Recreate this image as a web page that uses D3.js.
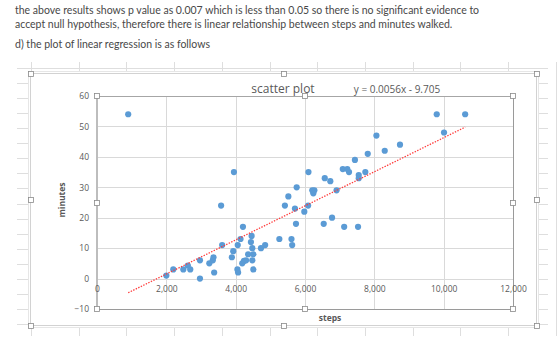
<!DOCTYPE html>
<html lang="en">
<head>
<meta charset="UTF-8">
<title>scatter plot</title>
<script src="https://d3js.org/d3.v7.min.js"></script>
<style>
  body { margin: 0; background: #fff; }
  svg { display: block; }
</style>
</head>
<body>
<div id="chart"></div>
<script>
// text above the chart
const paragraphLines = [
  "the above results shows p value as 0.007 which is less than 0.05 so there is no significant evidence to",
  "accept null hypothesis, therefore there is linear relationship between steps and minutes walked.",
  "d) the plot of linear regression is as follows"
];

// data
const steps = [900, 2000, 2200, 2490, 2620, 2690, 2970, 2970, 3240, 3340, 3360, 3380, 3580, 3610,
  3890, 3930, 3950, 4050, 4070, 4060, 4140, 4210, 4190, 4240, 4300, 4360, 4460, 4440, 4480, 4510,
  4480, 4510, 4730, 4850, 5260, 5610, 5630, 5740, 5420, 5520, 5710, 5760, 5980, 6090, 6100, 6210,
  6270, 6240, 6540, 6570, 6730, 6780, 6910, 7090, 7220, 7270, 7130, 7440, 7530, 7550, 7550, 7740,
  7810, 8060, 8300, 8740, 9800, 10010, 10620];
const minutes = [54, 1, 3, 3, 4.3, 3, 6, 0, 5, 6, 7, 2, 24, 11,
  7, 9, 35, 3, 2, 11, 13, 17, 5, 5.8, 6, 8, 14, 12, 10, 8,
  6, 3, 10, 11, 13, 13, 11, 18, 24, 27, 23, 30, 22, 24, 35, 29,
  29, 28, 18, 33, 32, 20, 29, 36, 36, 35, 17, 39, 17, 34, 33, 35,
  41, 47, 42, 44, 54, 48, 54];

const xTicks = [0, 2000, 4000, 6000, 8000, 10000, 12000];
const yTicks = [-10, 0, 10, 20, 30, 40, 50, 60];
const slope = 0.0056;
const intercept = -9.705;
const chartTitle = "scatter plot";
const equationLabel = "y = 0.0056x - 9.705";
const xTitle = "steps";
const yTitle = "minutes";

const width = 560, height = 362;
const svg = d3.select("#chart").append("svg")
  .attr("width", width)
  .attr("height", height)
  .style("font-family", "Lato, 'Open Sans', sans-serif");

svg.append("rect").attr("width", width).attr("height", height).attr("fill", "#fff");

// paragraph
svg.append("g")
  .attr("fill", "#484848")
  .style("font-size", "10.5px")
  .selectAll("text")
  .data(paragraphLines)
  .join("text")
  .attr("x", 15)
  .attr("y", (d, i) => [14, 28, 48][i])
  .text(d => d);

// spreadsheet cells behind the chart
const sheet = svg.append("g").attr("stroke", "#dedede").attr("stroke-width", 1);
const rowYs = d3.range(-1, 17).map(k => Math.round(82.7 + 15.1 * k) + 0.5);
sheet.selectAll("line.row")
  .data(rowYs)
  .join("line")
  .attr("x1", 17).attr("x2", 548)
  .attr("y1", d => d).attr("y2", d => d);
const colXs = d3.range(0, 12).map(k => Math.round(31 + 47.7 * k) + 0.5);
sheet.selectAll("line.col")
  .data(colXs)
  .join("line")
  .attr("x1", d => d).attr("x2", d => d)
  .attr("y1", 62).attr("y2", 336);

// chart area
const ca = { x0: 30, y0: 73, x1: 536, y1: 325 };
svg.append("rect")
  .attr("x", ca.x0 - 1.5).attr("y", ca.y0 - 1.5)
  .attr("width", ca.x1 - ca.x0 + 4).attr("height", ca.y1 - ca.y0 + 4)
  .attr("fill", "#fff").attr("stroke", "#e6e6e6").attr("stroke-width", 1);
svg.append("rect")
  .attr("x", ca.x0 + 0.5).attr("y", ca.y0 + 0.5)
  .attr("width", ca.x1 - ca.x0).attr("height", ca.y1 - ca.y0)
  .attr("fill", "#fff").attr("stroke", "#d2d2d2");

// scales
const x = d3.scaleLinear().domain([0, 12000]).range([97, 513]);
const y = d3.scaleLinear().domain([-10, 60]).range([309, 96]);

// gridlines
const grid = svg.append("g").attr("stroke", "#d9d9d9").attr("stroke-width", 1);
grid.selectAll("line.h")
  .data(yTicks)
  .join("line")
  .attr("x1", x(0)).attr("x2", x(12000))
  .attr("y1", d => Math.round(y(d)) + 0.5).attr("y2", d => Math.round(y(d)) + 0.5);
grid.selectAll("line.v")
  .data(xTicks.slice(1))
  .join("line")
  .attr("x1", d => Math.round(x(d)) + 0.5).attr("x2", d => Math.round(x(d)) + 0.5)
  .attr("y1", y(60)).attr("y2", y(-10));

// plot area frame
const frame = svg.append("g").attr("fill", "none");
frame.append("line")
  .attr("x1", x(12000) + 0.5).attr("x2", x(12000) + 0.5)
  .attr("y1", y(60)).attr("y2", y(-10))
  .attr("stroke", "#9a9a9a");
frame.append("line")
  .attr("x1", x(0)).attr("x2", x(12000))
  .attr("y1", y(-10) + 0.5).attr("y2", y(-10) + 0.5)
  .attr("stroke", "#9a9a9a");
frame.append("line")
  .attr("x1", x(0)).attr("x2", x(12000))
  .attr("y1", y(60) + 0.5).attr("y2", y(60) + 0.5)
  .attr("stroke", "#a6a6a6");
frame.append("line")
  .attr("x1", x(0)).attr("x2", x(0))
  .attr("y1", y(60)).attr("y2", y(-10))
  .attr("stroke", "#bdbdbd").attr("stroke-width", 2);

// y axis labels
const yAxis = svg.append("g")
  .attr("transform", `translate(${x(0) - 2},0)`)
  .call(d3.axisLeft(y).tickValues(yTicks).tickSize(0).tickPadding(6));
yAxis.select(".domain").remove();
yAxis.selectAll("text").attr("fill", "#595959").style("font-size", "8.5px").style("font-family", "'Open Sans', sans-serif");

// x axis labels, crossing at y = 0
const xAxis = svg.append("g")
  .attr("transform", `translate(0,${y(0)})`)
  .call(d3.axisBottom(x).tickValues(xTicks).tickSize(0).tickPadding(7));
xAxis.select(".domain").remove();
xAxis.selectAll("text").attr("fill", "#595959").style("font-size", "8.5px").style("font-family", "'Open Sans', sans-serif");

// points
svg.append("g")
  .attr("fill", "#5b9bd5")
  .selectAll("circle")
  .data(steps.map((s, i) => [s, minutes[i]]))
  .join("circle")
  .attr("cx", d => x(d[0]))
  .attr("cy", d => y(d[1]))
  .attr("r", 3.1);

// linear trendline
const xExtent = d3.extent(steps);
svg.append("path")
  .datum(xExtent)
  .attr("fill", "none")
  .attr("stroke", "#ff3b3b")
  .attr("stroke-width", 1.3)
  .attr("stroke-dasharray", "1.4 1.4")
  .attr("d", d3.line().x(d => x(d)).y(d => y(slope * d + intercept)));

// titles
svg.append("text")
  .attr("x", 283).attr("y", 93)
  .attr("text-anchor", "middle")
  .attr("fill", "#595959")
  .style("font-size", "12px")
  .style("font-family", "'Open Sans', sans-serif")
  .text(chartTitle);

svg.append("text")
  .attr("x", 397).attr("y", 93)
  .attr("text-anchor", "middle")
  .attr("fill", "#595959")
  .style("font-size", "10px")
  .style("font-family", "'Open Sans', sans-serif")
  .text(equationLabel);

svg.append("text")
  .attr("transform", `translate(65,200) rotate(-90)`)
  .attr("text-anchor", "middle")
  .attr("fill", "#595959")
  .style("font-size", "8.5px")
  .style("font-weight", "bold")
  .style("font-family", "'Open Sans', sans-serif")
  .text(yTitle);

svg.append("text")
  .attr("x", 330).attr("y", 321)
  .attr("text-anchor", "middle")
  .attr("fill", "#595959")
  .style("font-size", "8.5px")
  .style("font-weight", "bold")
  .style("font-family", "'Open Sans', sans-serif")
  .text(xTitle);

// selection handles
function handles(x0, y0, x1, y1) {
  const xm = (x0 + x1) / 2, ym = (y0 + y1) / 2;
  return [[x0, y0], [xm, y0], [x1, y0], [x0, ym], [x1, ym], [x0, y1], [xm, y1], [x1, y1]];
}
svg.append("g")
  .selectAll("rect")
  .data(handles(ca.x0 + 0.5, ca.y0 + 0.5, ca.x1 + 0.5, ca.y1 + 0.5)
    .concat(handles(x(0), y(60), x(12000), y(-10))))
  .join("rect")
  .attr("x", d => Math.round(d[0]) - 2.5)
  .attr("y", d => Math.round(d[1]) - 2.5)
  .attr("width", 5).attr("height", 5)
  .attr("fill", "#fff")
  .attr("stroke", "#8a8a8a")
  .attr("stroke-width", 0.8);
</script>
</body>
</html>
